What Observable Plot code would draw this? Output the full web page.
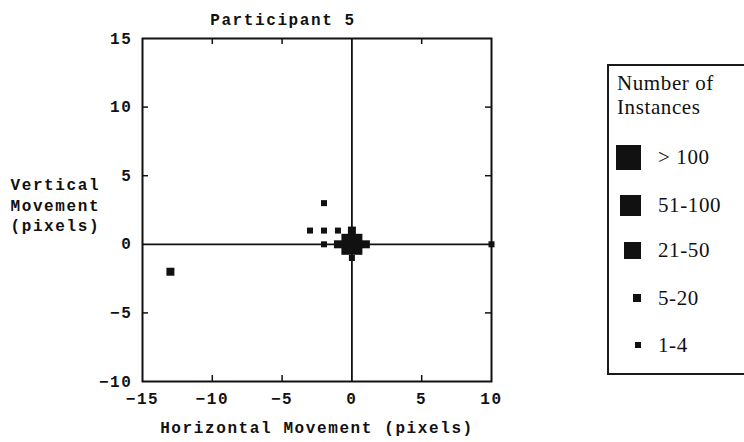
<!DOCTYPE html>
<html>
<head>
<meta charset="utf-8">
<script src="https://cdn.jsdelivr.net/npm/d3@7"></script>
<script src="https://cdn.jsdelivr.net/npm/@observablehq/plot@0.6"></script>
<style>
  html, body { margin: 0; padding: 0; background: #fff; }
  body { width: 744px; height: 442px; overflow: hidden; position: relative; }
  #chart { position: absolute; left: 0; top: 0; }
  .lg { position: absolute; font-family: "Liberation Serif", "Times New Roman", serif; font-size: 21px; color: #111; line-height: 24px; white-space: nowrap; letter-spacing: 0.6px; }
  .sq { position: absolute; background: #111; }
  #legendBox { position: absolute; left: 607px; top: 64px; width: 220px; height: 311px; border: 2px solid #1a1a1a; box-sizing: border-box; }
</style>
</head>
<body>
<div id="chart"></div>
<div id="legendBox"></div>
<script>
// ---- data ----
const title = "Participant 5";
const xLabel = "Horizontal Movement (pixels)";
const yLabel = "Vertical\nMovement\n(pixels)";
const legendTitle = ["Number of", "Instances"];
const categories = ["> 100", "51-100", "21-50", "5-20", "1-4"];
const xTicks = [-15, -10, -5, 0, 5, 10];
const yTicks = [-10, -5, 0, 5, 10, 15];
const xInnerTicks = [-10, -5, 5];
const yInnerTicks = [-5, 5, 10];
const ptX = [0, 0, -1, 1, 0, -2, -3, -2, -1, -2, -13, 10];
const ptY = [0, 1, 0, 0, -1, 3, 1, 1, 1, 0, -2, 0];
const ptCat = ["51-100", "5-20", "5-20", "5-20", "1-4", "1-4", "1-4", "1-4", "1-4", "1-4", "5-20", "1-4"];

// ---- styles ----
const side = {"> 100": 25, "51-100": 21, "21-50": 17, "5-20": 8, "1-4": 6};
const W = 744, H = 442, mL = 142, mR = 253, mT = 38, mB = 61;
const innerW = W - mL - mR, innerH = H - mT - mB, tickLen = 6;
const idx = ptX.map((_, i) => i);

const chart = Plot.plot({
  width: W, height: H,
  marginLeft: mL, marginRight: mR, marginTop: mT, marginBottom: mB,
  x: {domain: [-15, 10]},
  y: {domain: [-10, 15]},
  style: {fontFamily: "'Liberation Mono', 'Courier New', monospace", fontSize: "16px", fontWeight: "bold", color: "#111", background: "white", letterSpacing: "1.6px"},
  marks: [
    Plot.ruleX([0], {stroke: "#111", strokeWidth: 1.8}),
    Plot.ruleY([0], {stroke: "#111", strokeWidth: 1.8}),
    Plot.frame({stroke: "#111", strokeWidth: 2}),
    Plot.tickX(xInnerTicks, {x: d => d, insetTop: innerH - tickLen, stroke: "#111", strokeWidth: 1.5}),
    Plot.tickX(xInnerTicks, {x: d => d, insetBottom: innerH - tickLen, stroke: "#111", strokeWidth: 1.5}),
    Plot.tickY(yInnerTicks, {y: d => d, insetRight: innerW - tickLen, stroke: "#111", strokeWidth: 1.5}),
    Plot.tickY(yInnerTicks, {y: d => d, insetLeft: innerW - tickLen, stroke: "#111", strokeWidth: 1.5}),
    Plot.axisX(xTicks, {anchor: "bottom", tickSize: 0, tickPadding: 11, label: null}),
    Plot.axisY(yTicks, {anchor: "left", tickSize: 0, tickPadding: 10, label: null}),
    ...categories.map(c => Plot.dot(idx.filter(i => ptCat[i] === c), {
      x: i => ptX[i], y: i => ptY[i], symbol: "square",
      r: side[c] / Math.sqrt(Math.PI), fill: "#111", stroke: "none"
    })),
    Plot.text([title], {frameAnchor: "top", dx: -34, dy: -25}),
    Plot.text([xLabel], {frameAnchor: "bottom", dy: 51}),
    Plot.text([yLabel], {frameAnchor: "left", textAnchor: "start", dx: -132, dy: -6, lineHeight: 1.3})
  ]
});
document.getElementById("chart").appendChild(chart);

// ---- legend (HTML) ----
const body = document.body;
function addText(t, left, cy) {
  const d = document.createElement("div");
  d.className = "lg";
  d.textContent = t;
  d.style.left = left + "px";
  d.style.top = (cy - 12) + "px";
  body.appendChild(d);
}
legendTitle.forEach((t, i) => addText(t, 617, 83 + i * 24));
const itemY = [157, 205, 250, 298, 345];
categories.forEach((c, i) => {
  const s = side[c];
  const q = document.createElement("div");
  q.className = "sq";
  q.style.width = s + "px";
  q.style.height = s + "px";
  q.style.left = (641 - s) + "px";
  q.style.top = (itemY[i] - s / 2) + "px";
  body.appendChild(q);
  addText(c, 658, itemY[i]);
});
</script>
</body>
</html>
